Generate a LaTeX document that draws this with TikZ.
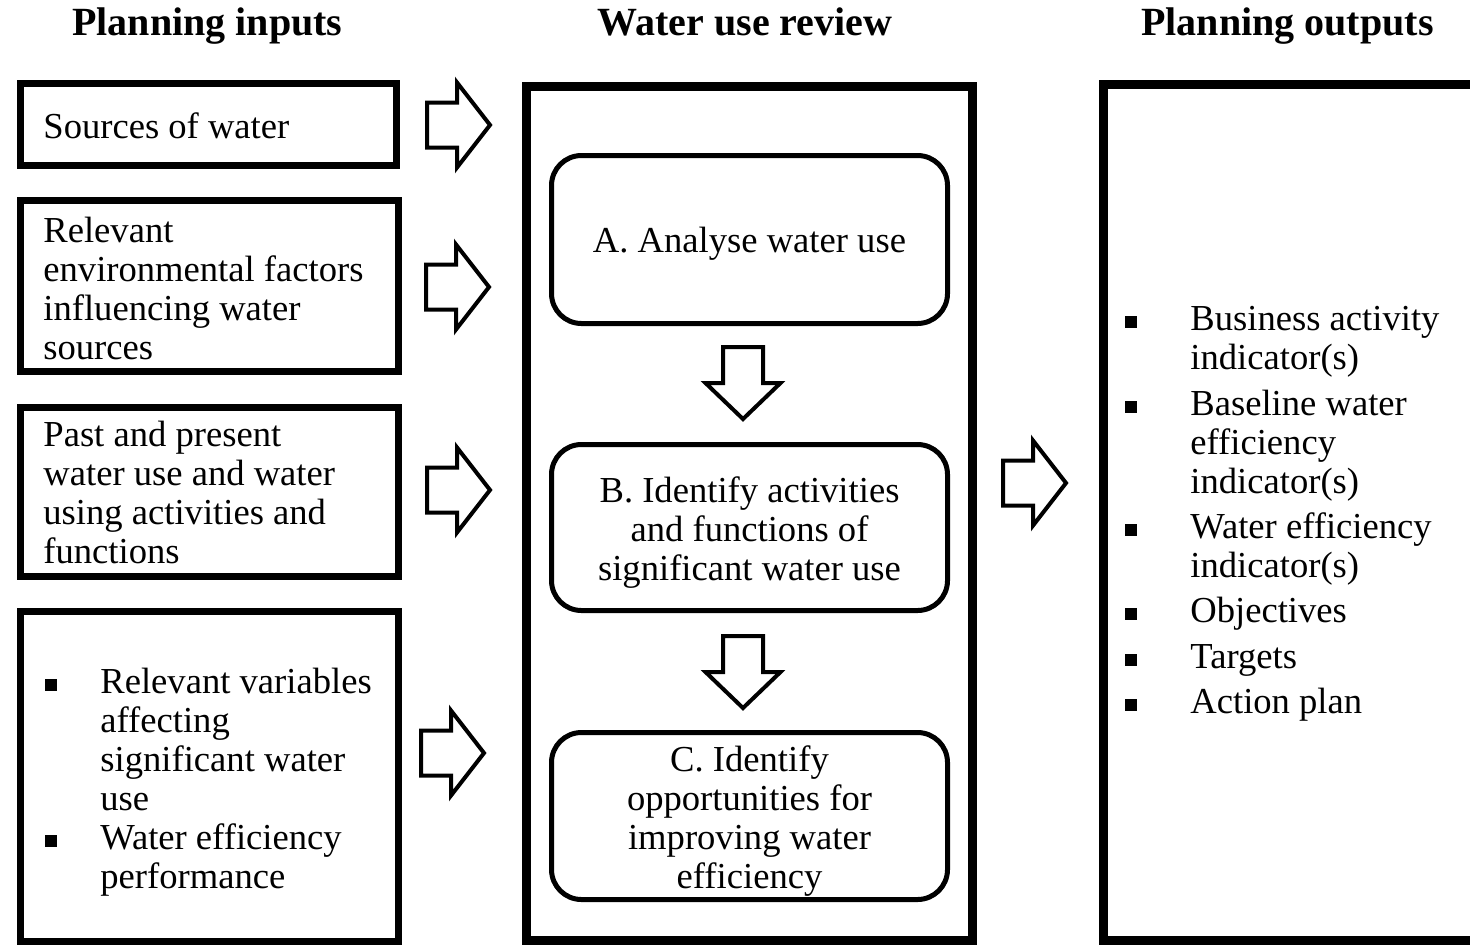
\documentclass[tikz,border=0pt]{standalone}
\usepackage{fontspec}
\setmainfont{Liberation Serif}
\newcommand{\bsq}{\raisebox{1.3pt}{\rule{6pt}{6pt}}}
\newcommand{\obul}{\makebox[32.5pt][l]{\bsq}}
\newcommand{\oind}{\hspace*{32.5pt}}
\newcommand{\ibul}{\makebox[27.5pt][l]{\bsq}}
\newcommand{\iind}{\hspace*{27.5pt}}
\begin{document}
\begin{tikzpicture}[x=0.5pt,y=-0.5pt,
  inbox/.style={draw, line width=3.5pt, inner sep=0pt},
  bigbox/.style={draw, line width=4.5pt, inner sep=0pt},
  stepbox/.style={draw, line width=2.5pt, rounded corners=15pt, inner sep=0pt,
    minimum width=198pt},
  txt/.style={inner sep=0pt, align=left, font=\fontsize{18.3pt}{19.5pt}\selectfont},
  ctxt/.style={txt, align=center},
  title/.style={inner sep=0pt, anchor=base, font=\fontsize{20pt}{22pt}\selectfont\bfseries},
  blk/.style={draw, line width=2pt, line join=miter, fill=white},
  rarrow/.pic={\path[blk] (0,-22.5) -- (30,-22.5) -- (30,-42.5) -- (63,0) -- (30,42.5) -- (30,22.5) -- (0,22.5) -- cycle;},
  darrow/.pic={\path[blk] (-20,0) -- (20,0) -- (20,36) -- (37.5,36) -- (0,72) -- (-37.5,36) -- (-20,36) -- cycle;}
]
\useasboundingbox[fill=white] (0,0) rectangle (1470,944);

% titles
\node[title] (h1) at (207.5,35) {Planning inputs};
\node[title] (h2) at (745,35) {Water use review};
\node[title] (h3) at (1287.5,35) {Planning outputs};

% input boxes
\node[inbox, minimum width=188pt, minimum height=41pt] (in1) at (208.5,124.5) {};
\node[txt, anchor=west] (in1t) at (43,126) {Sources of water};

\node[inbox, minimum width=189pt, minimum height=85.5pt] (in2) at (209.5,286) {};
\node[txt, anchor=west] (in2t) at (43,288) {Relevant\\ environmental factors\\ influencing water\\ sources};

\node[inbox, minimum width=189pt, minimum height=84.5pt] (in3) at (209.5,492) {};
\node[txt, anchor=west] (in3t) at (43,492) {Past and present\\ water use and water\\ using activities and\\ functions};

\node[inbox, minimum width=189pt, minimum height=164.75pt] (in4) at (209.5,776.25) {};
\node[txt, anchor=west] (in4t) at (45,782) {\ibul Relevant variables\\ \iind affecting\\ \iind significant water\\ \iind use\\ \ibul Water efficiency\\ \iind performance};

% middle
\node[bigbox, minimum width=223pt, minimum height=426.75pt] (mid) at (749.5,513.25) {};
\node[stepbox, minimum height=84pt] (A) at (749.5,239.5) {};
\node[ctxt] (At) at (749.5,243.5) {A. Analyse water use};
\node[stepbox, minimum height=83pt] (B) at (749.5,527.5) {};
\node[ctxt] (Bt) at (749.5,532.5) {B. Identify activities\\ and functions of\\ significant water use};
\node[stepbox, minimum height=83.5pt] (C) at (749.5,816) {};
\node[ctxt] (Ct) at (749.5,821) {C. Identify\\ opportunities for\\ improving water\\ efficiency};

% output
\node[bigbox, minimum width=193.5pt, minimum height=427.75pt] (out) at (1296.5,512.25) {};
\node[txt, anchor=west] (outt) at (1125,514) {\obul Business activity\\ \oind indicator(s)\\[3.2pt]
\obul Baseline water\\ \oind efficiency\\ \oind indicator(s)\\[3.2pt]
\obul Water efficiency\\ \oind indicator(s)\\[3.2pt]
\obul Objectives\\[3.2pt]
\obul Targets\\[3.2pt]
\obul Action plan};

% block arrows
\pic at (427,125) {rarrow};
\pic at (426,287) {rarrow};
\pic at (427,490) {rarrow};
\pic at (421,753) {rarrow};
\pic at (1003,483) {rarrow};
\pic at (743,347) {darrow};
\pic at (743,636) {darrow};
\end{tikzpicture}
\end{document}
